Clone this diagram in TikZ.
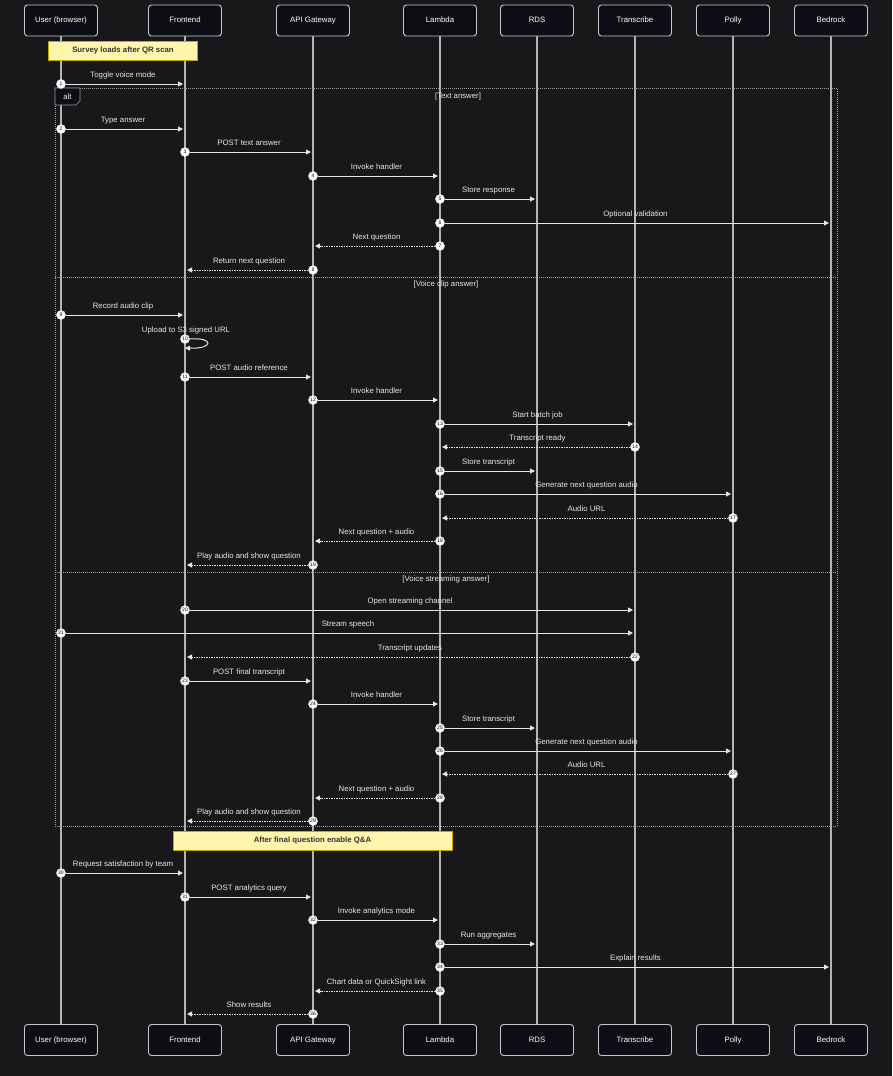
\documentclass[tikz,border=0pt]{standalone}
\usepackage{fontspec}
\setmainfont{Liberation Sans}
\usetikzlibrary{arrows.meta}
\definecolor{bg}{HTML}{18181B}
\definecolor{actfill}{HTML}{0D0D15}
\definecolor{actline}{HTML}{C8C8C8}
\definecolor{lifeln}{HTML}{B4B4B4}
\definecolor{msgcol}{HTML}{E6E6E6}
\definecolor{txtcol}{HTML}{E8E8E8}
\definecolor{notefill}{HTML}{FFF5AD}
\definecolor{noteline}{HTML}{C9A400}
\definecolor{notetxt}{HTML}{333333}
\definecolor{altline}{HTML}{A0A0A0}
\tikzset{
  actor/.style={draw=actline, fill=actfill, rounded corners=3pt, line width=0.9pt,
    minimum width=73pt, minimum height=31pt, text=white, font=\fontsize{7.8}{9}\selectfont,
    text height=5.6pt, text depth=1.6pt},
  lifeline/.style={draw=lifeln, line width=1.1pt},
  msgline/.style={draw=msgcol, line width=1pt, -{Triangle[length=5pt,width=5pt]}, shorten >=2pt},
  retline/.style={msgline, dash pattern=on 1.5pt off 1pt},
  num/.style={circle, fill=white, draw=msgcol, line width=0.5pt, inner sep=0pt, minimum size=9pt,
    text=black, font=\fontsize{5}{5}\selectfont},
  lbl/.style={text=txtcol, font=\fontsize{7.8}{9}\selectfont, inner sep=0pt},
  note/.style={draw=noteline, fill=notefill, line width=0.9pt, text=notetxt,
    font=\fontsize{7.8}{9}\selectfont\bfseries, inner sep=0pt, text height=5.6pt, text depth=1.6pt},
  altbox/.style={draw=altline, line width=0.8pt, dash pattern=on 1pt off 1pt},
}
\def\xU{61}\def\xF{185}\def\xA{313}\def\xL{440}\def\xR{537}\def\xT{635}\def\xP{733}\def\xB{831}
\newcommand\msg[6]{%
  \node[num] (n#1) at (#3,#2) {#1};
  \coordinate (t#1) at (#4,#2);
  \draw[#5] (n#1) -- (t#1);
  \node[lbl, anchor=base] (l#1) at ({(#3+#4)/2},{#2-6.5}) {#6};
}
\begin{document}
\begin{tikzpicture}[x=1pt,y=-1pt]
\fill[bg] (0,0) rectangle (892,1076);
\useasboundingbox (0,0) rectangle (892,1076);
% actors
\foreach \n/\x/\t in {U/61/User (browser),F/185/Frontend,A/313/API Gateway,L/440/Lambda,R/537/RDS,T/635/Transcribe,P/733/Polly,B/831/Bedrock}{
  \node[actor] (top\n) at (\x,20.5) {\t};
  \node[actor] (bot\n) at (\x,1040) {\t};
  \draw[lifeline] (top\n) -- (bot\n);
}
% alt frame
\draw[altbox] (55,88) rectangle (837,826);
\draw[draw=altline, fill=actfill, line width=0.7pt] (55,88) -- (80,88) -- (80,101) -- (76,105) -- (55,105) -- cycle;
\node[lbl, anchor=base] (altlbl) at (67.5,99) {alt};
\draw[altbox] (55,277) -- (837,277);
\draw[altbox] (55,572) -- (837,572);
\node[lbl, anchor=base] (g1) at (458,98) {[Text answer]};
\node[lbl, anchor=base] (g2) at (446,286) {[Voice clip answer]};
\node[lbl, anchor=base] (g3) at (446,581) {[Voice streaming answer]};
% notes
\node[note, minimum width=149pt, minimum height=19pt] (note1) at (123,50.5) {Survey loads after QR scan};
\node[note, minimum width=279pt, minimum height=19pt] (note2) at (312.5,840.5) {After final question enable Q\&A};
% messages
\msg{1}{84}{\xU}{\xF}{msgline}{Toggle voice mode}
\msg{2}{129}{\xU}{\xF}{msgline}{Type answer}
\msg{3}{152}{\xF}{\xA}{msgline}{POST text answer}
\msg{4}{176}{\xA}{\xL}{msgline}{Invoke handler}
\msg{5}{199}{\xL}{\xR}{msgline}{Store response}
\msg{6}{223}{\xL}{\xB}{msgline}{Optional validation}
\msg{7}{246}{\xL}{\xA}{retline}{Next question}
\msg{8}{270}{\xA}{\xF}{retline}{Return next question}
\msg{9}{315}{\xU}{\xF}{msgline}{Record audio clip}
% self message 10
\node[num] (n10) at (\xF,339) {10};
\coordinate (t10) at (\xF,348);
\draw[msgline, shorten >=0pt] (n10.east) .. controls (214,337) and (214,349) .. (t10);
\node[lbl, anchor=base] (l10) at (186,332.5) {Upload to S3 signed URL};
\msg{11}{377}{\xF}{\xA}{msgline}{POST audio reference}
\msg{12}{400}{\xA}{\xL}{msgline}{Invoke handler}
\msg{13}{424}{\xL}{\xT}{msgline}{Start batch job}
\msg{14}{447}{\xT}{\xL}{retline}{Transcript ready}
\msg{15}{471}{\xL}{\xR}{msgline}{Store transcript}
\msg{16}{494}{\xL}{\xP}{msgline}{Generate next question audio}
\msg{17}{518}{\xP}{\xL}{retline}{Audio URL}
\msg{18}{541}{\xL}{\xA}{retline}{Next question + audio}
\msg{19}{565}{\xA}{\xF}{retline}{Play audio and show question}
\msg{20}{610}{\xF}{\xT}{msgline}{Open streaming channel}
\msg{21}{633}{\xU}{\xT}{msgline}{Stream speech}
\msg{22}{657}{\xT}{\xF}{retline}{Transcript updates}
\msg{23}{681}{\xF}{\xA}{msgline}{POST final transcript}
\msg{24}{704}{\xA}{\xL}{msgline}{Invoke handler}
\msg{25}{728}{\xL}{\xR}{msgline}{Store transcript}
\msg{26}{751}{\xL}{\xP}{msgline}{Generate next question audio}
\msg{27}{774}{\xP}{\xL}{retline}{Audio URL}
\msg{28}{798}{\xL}{\xA}{retline}{Next question + audio}
\msg{29}{821}{\xA}{\xF}{retline}{Play audio and show question}
\msg{30}{873}{\xU}{\xF}{msgline}{Request satisfaction by team}
\msg{31}{897}{\xF}{\xA}{msgline}{POST analytics query}
\msg{32}{920}{\xA}{\xL}{msgline}{Invoke analytics mode}
\msg{33}{944}{\xL}{\xR}{msgline}{Run aggregates}
\msg{34}{967}{\xL}{\xB}{msgline}{Explain results}
\msg{35}{991}{\xL}{\xA}{retline}{Chart data or QuickSight link}
\msg{36}{1014}{\xA}{\xF}{retline}{Show results}
\end{tikzpicture}
\end{document}
